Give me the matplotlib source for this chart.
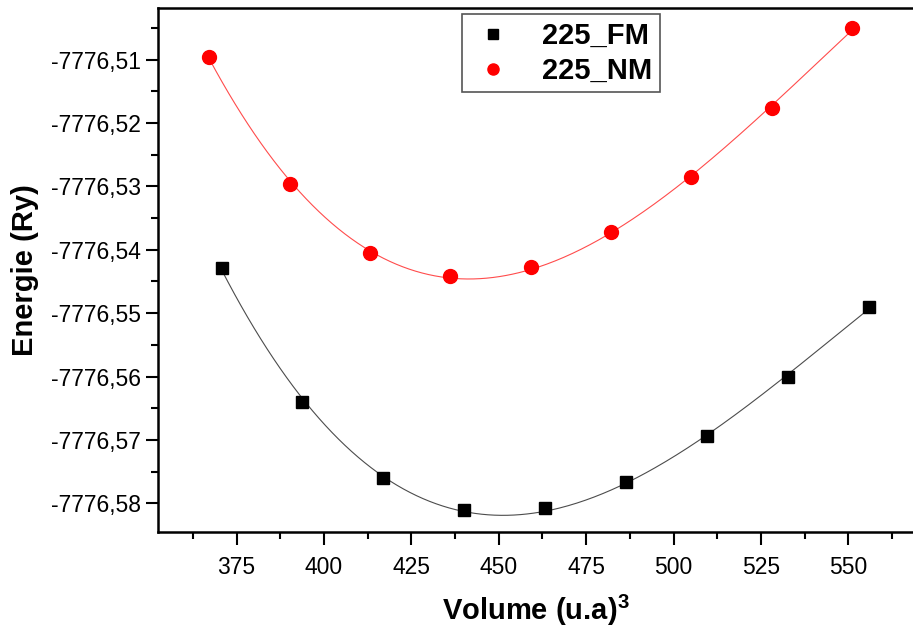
import numpy as np
import matplotlib
matplotlib.use("Agg")
import matplotlib.pyplot as plt
from matplotlib.ticker import MultipleLocator, FuncFormatter

plt.rcParams['font.family'] = ['Liberation Sans', 'DejaVu Sans']
plt.rcParams['mathtext.fontset'] = 'custom'
plt.rcParams['mathtext.rm'] = 'Liberation Sans'
plt.rcParams['mathtext.bf'] = 'Liberation Sans:bold'

# volume (u.a)^3 and energy (Ry)
vol_fm = [370.7, 393.8, 417.0, 440.1, 463.3, 486.5, 509.7, 532.8, 556.0]
e_fm = [-7776.5428, -7776.5640, -7776.5760, -7776.5810, -7776.5808,
        -7776.5767, -7776.5694, -7776.5600, -7776.5490]

vol_nm = [367.2, 390.3, 413.2, 436.1, 459.1, 482.1, 505.1, 528.1, 551.0]
e_nm = [-7776.5096, -7776.5296, -7776.5405, -7776.5442, -7776.5427,
        -7776.5372, -7776.5285, -7776.5177, -7776.5051]

fig = plt.figure(figsize=(9.13, 6.28), dpi=100)
ax = fig.add_axes([0.173, 0.153, 0.827, 0.834])

# smooth fit through each series (like the Origin fit curve)
for v, e, c in [(vol_fm, e_fm, 'black'), (vol_nm, e_nm, 'red')]:
    v = np.array(v)
    e = np.array(e)
    p = np.polyfit(v - 450, e - e.mean(), 3)
    vv = np.linspace(v.min(), v.max(), 300)
    ax.plot(vv, np.polyval(p, vv - 450) + e.mean(), color=c, lw=0.8,
            alpha=0.7, zorder=2)

ax.plot(vol_fm, e_fm, 's', color='black', ms=9, ls='none', label='225_FM', zorder=3)
ax.plot(vol_nm, e_nm, 'o', color='red', ms=10, ls='none', label='225_NM', zorder=3)

ax.set_xlim(352.5, 568.5)
ax.set_ylim(-7776.5845, -7776.5019)

ax.xaxis.set_major_locator(MultipleLocator(25))
ax.xaxis.set_minor_locator(MultipleLocator(12.5))
ax.yaxis.set_major_locator(MultipleLocator(0.01))
ax.yaxis.set_minor_locator(MultipleLocator(0.005))
ax.yaxis.set_major_formatter(FuncFormatter(lambda y, pos: ('%.2f' % y).replace('.', ',')))

ax.tick_params(which='major', direction='out', length=9, width=1.5, labelsize=16.5)
ax.tick_params(which='minor', direction='out', length=5, width=1.5)
ax.tick_params(axis='x', pad=8)
for s in ['left', 'bottom', 'top']:
    ax.spines[s].set_linewidth(1.8)
ax.spines['right'].set_visible(False)

ax.set_xlabel(r'Volume (u.a)$^\mathbf{3}$', fontsize=21, fontweight='bold', labelpad=10)
ax.set_ylabel('Energie (Ry)', fontsize=21, fontweight='bold', labelpad=8)

leg = ax.legend(loc='upper left', bbox_to_anchor=(0.4026, 0.988),
                prop={'weight': 'bold', 'size': 21}, fancybox=False,
                edgecolor='#555555', framealpha=1, handletextpad=0.9,
                borderpad=0.25, labelspacing=0.25, handlelength=1.6,
                borderaxespad=0, markerscale=0.8)
leg.get_frame().set_linewidth(1.2)

fig.savefig('out.png', dpi=100)
